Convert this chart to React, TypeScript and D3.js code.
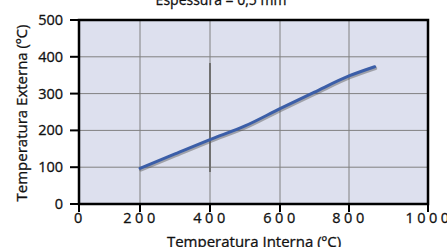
import React, { useRef, useEffect } from 'react';
import * as d3 from 'd3';

// curva (temperatura interna x externa, ºC)
const interna = [200, 300, 400, 500, 600, 700, 800, 865];
const externa = [97, 136, 175, 212, 259, 304, 348, 373];

const xTicks = [0, 200, 400, 600, 800, 1000];
const yTicks = [0, 100, 200, 300, 400, 500];

// marca vertical escura que aparece no original, em x = 400
const marcaX = 400;
const marcaY = [87, 383];

const W = 447;
const H = 247;
const FONT = '"Open Sans", "Noto Sans", sans-serif';

const App: React.FC = () => {
    const svgRef = useRef<SVGSVGElement>(null);

    useEffect(() => {
        if (!svgRef.current) return;
        const svg = d3.select(svgRef.current);
        svg.selectAll('*').remove();

        // o eixo x original não é uniforme, por isso a escala é por partes
        const x = d3.scaleLinear()
            .domain(xTicks)
            .range([79, 140, 210, 280, 349, 428]);
        const y = d3.scaleLinear()
            .domain([0, 500])
            .range([204, 20]);

        const [x0, x1] = [x(0), x(1000)];
        const [yb, yt] = [y(0), y(500)];

        svg.append('rect')
            .attr('x', x0).attr('y', yt)
            .attr('width', x1 - x0).attr('height', yb - yt)
            .attr('fill', '#dde0ee');

        // grade
        svg.append('g')
            .selectAll('line')
            .data(yTicks.slice(1, -1))
            .join('line')
            .attr('x1', x0).attr('x2', x1)
            .attr('y1', d => y(d)).attr('y2', d => y(d))
            .attr('stroke', '#808080').attr('stroke-width', 1);
        svg.append('g')
            .selectAll('line')
            .data(xTicks.slice(1, -1))
            .join('line')
            .attr('x1', d => x(d)).attr('x2', d => x(d))
            .attr('y1', yt).attr('y2', yb)
            .attr('stroke', '#808080').attr('stroke-width', 1);

        svg.append('line')
            .attr('x1', x(marcaX)).attr('x2', x(marcaX))
            .attr('y1', y(marcaY[0])).attr('y2', y(marcaY[1]))
            .attr('stroke', '#707070').attr('stroke-width', 2);

        // curva
        const pts = interna.map((d, i) => [d, externa[i]] as [number, number]);
        const line = d3.line<[number, number]>()
            .x(d => x(d[0]))
            .y(d => y(d[1]))
            .curve(d3.curveMonotoneX);

        svg.append('path')
            .attr('d', line(pts))
            .attr('transform', 'translate(0.8,1.5)')
            .attr('fill', 'none')
            .attr('stroke', '#555')
            .attr('stroke-opacity', 0.45)
            .attr('stroke-width', 3.5)
            .attr('stroke-linecap', 'round');
        svg.append('path')
            .attr('d', line(pts))
            .attr('fill', 'none')
            .attr('stroke', '#3b5ea8')
            .attr('stroke-width', 3)
            .attr('stroke-linecap', 'round');

        // moldura
        svg.append('rect')
            .attr('x', x0).attr('y', yt)
            .attr('width', x1 - x0).attr('height', yb - yt)
            .attr('fill', 'none')
            .attr('stroke', '#000').attr('stroke-width', 2.5);

        const texto = (sel: d3.Selection<any, any, any, any>, size: number) =>
            sel.attr('font-family', FONT)
                .attr('font-size', size)
                .attr('fill', '#111')
                .attr('stroke', '#111')
                .attr('stroke-width', 0.3);

        // eixo y
        const gy = svg.append('g');
        gy.selectAll('line')
            .data(yTicks)
            .join('line')
            .attr('x1', 70).attr('x2', x0)
            .attr('y1', d => y(d)).attr('y2', d => y(d))
            .attr('stroke', '#000').attr('stroke-width', 2);
        gy.selectAll('text')
            .data(yTicks)
            .join('text')
            .attr('x', 63)
            .attr('y', d => y(d) + 5)
            .attr('text-anchor', 'end')
            .call(texto, 14.5)
            .text(d => d);

        // eixo x
        const gx = svg.append('g');
        gx.selectAll('line')
            .data(xTicks)
            .join('line')
            .attr('x1', d => x(d)).attr('x2', d => x(d))
            .attr('y1', yb).attr('y2', yb + 8)
            .attr('stroke', '#000').attr('stroke-width', 2);
        gx.selectAll('text')
            .data(xTicks)
            .join('text')
            .attr('x', d => x(d) + 1)
            .attr('y', 223)
            .attr('text-anchor', 'middle')
            .attr('letter-spacing', 3.5)
            .call(texto, 14.5)
            .text(d => d);

        svg.append('text')
            .attr('x', 254).attr('y', 247)
            .attr('text-anchor', 'middle')
            .call(texto, 15)
            .text('Temperatura Interna (ºC)');

        svg.append('text')
            .attr('transform', `translate(27,113) rotate(-90)`)
            .attr('text-anchor', 'middle')
            .call(texto, 15)
            .text('Temperatura Externa (ºC)');

        svg.append('text')
            .attr('x', 221).attr('y', 5)
            .attr('text-anchor', 'middle')
            .call(texto, 14)
            .text('Espessura = 0,5 mm');
    }, []);

    return (
        <svg
            ref={svgRef}
            width={W}
            height={H}
            style={{ position: 'fixed', left: 0, top: 0, background: '#fff' }}
        />
    );
};

export default App;
